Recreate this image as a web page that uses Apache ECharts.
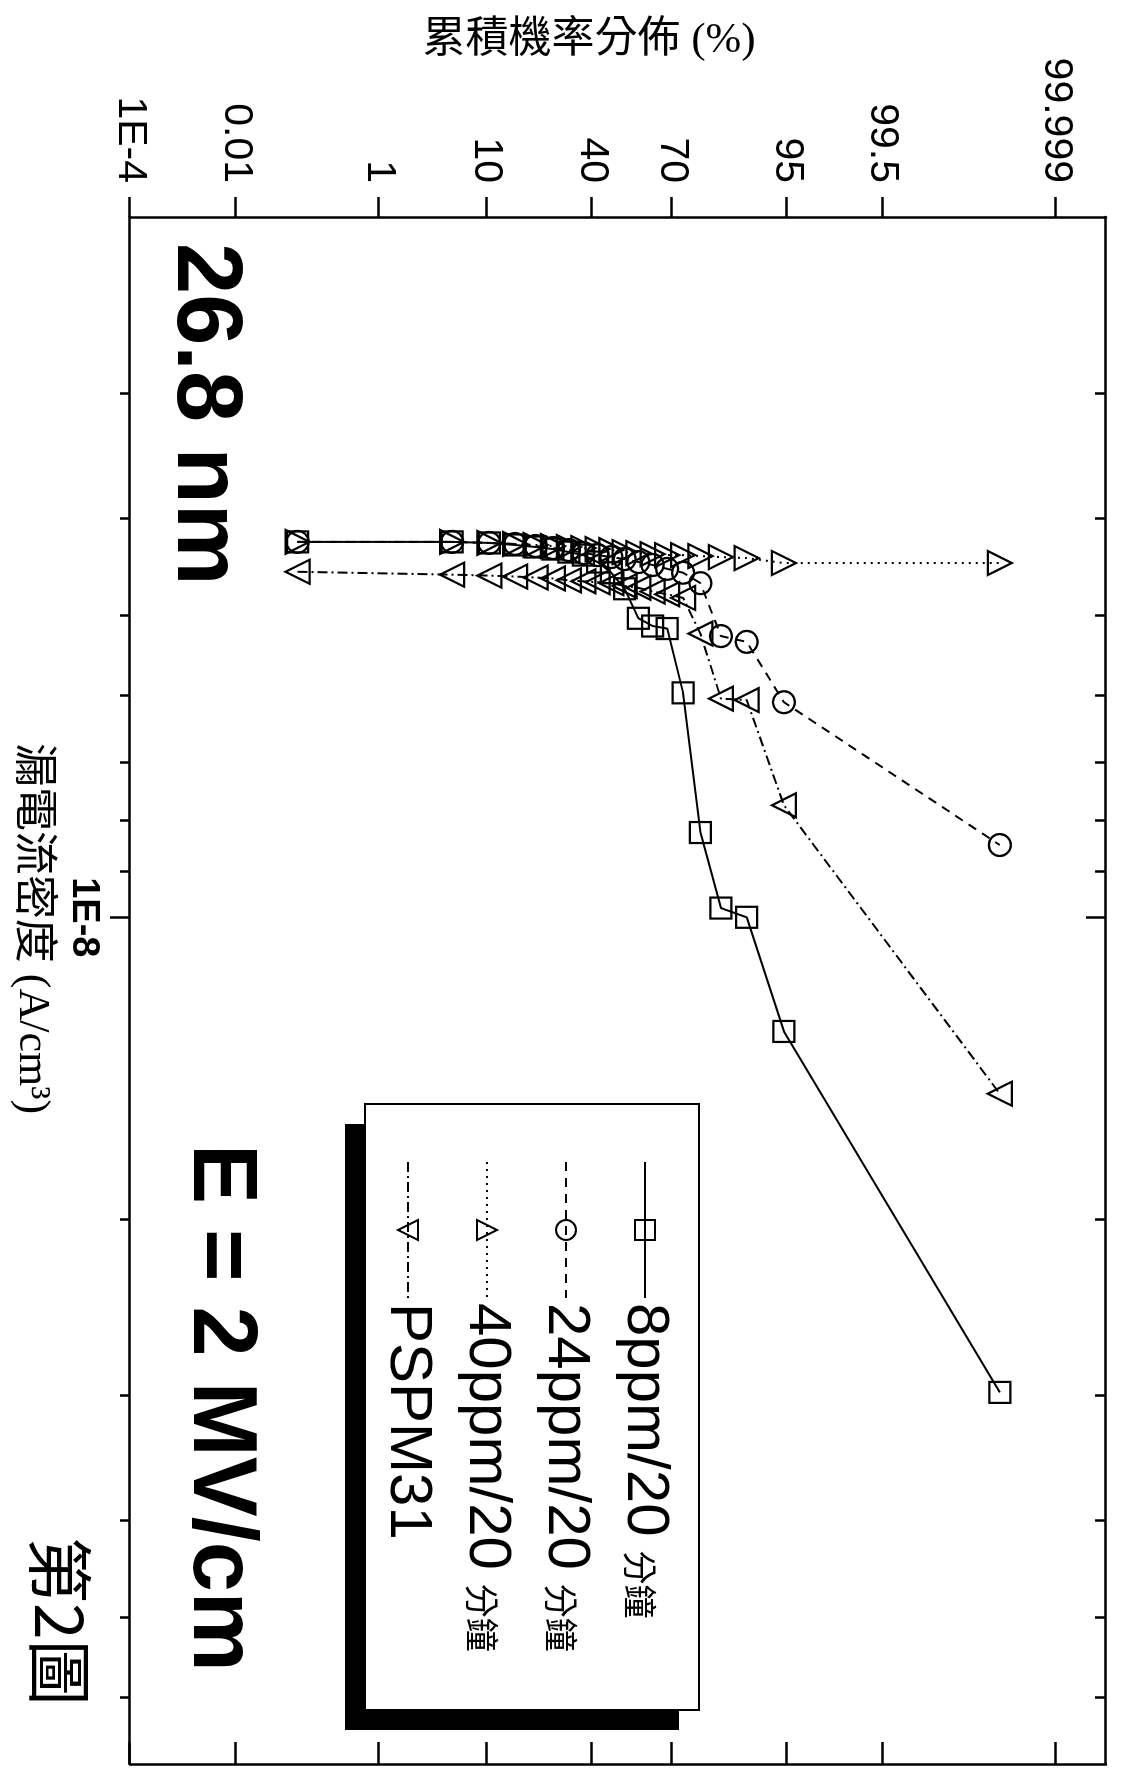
<!DOCTYPE html>
<html>
<head>
<meta charset="utf-8">
<script src="https://cdn.jsdelivr.net/npm/echarts@6.0.0/dist/echarts.min.js"></script>
<style>
  html, body { margin: 0; padding: 0; background: #fff; overflow: hidden; }
  #page { position: relative; width: 1128px; height: 1775px; overflow: hidden; background: #fff; }
  /* the figure is printed sideways: draw it upright, then turn it a quarter clockwise */
  #chart { position: absolute; left: 0; top: 0; width: 1775px; height: 1128px;
           transform-origin: 0 0; transform: translate(1128px, 0) rotate(90deg); }
</style>
</head>
<body>
<div id="page"><div id="chart"></div></div>
<script>
// cumulative probability (%) of each rank, shared by all four lots
var cumProb = [0.09, 5.3, 10.5, 15.8, 21.1, 26.3, 31.6, 36.8, 42.1, 47.4,
               52.6, 57.9, 63.2, 68.4, 73.7, 78.9, 84.2, 89.5, 94.7, 99.99];

// leakage current density (A/cm3) per rank
var j8ppm   = [4.22e-9, 4.22e-9, 4.23e-9, 4.25e-9, 4.27e-9, 4.29e-9, 4.32e-9, 4.35e-9, 4.42e-9, 4.53e-9,
               4.70e-9, 5.03e-9, 5.12e-9, 5.15e-9, 5.97e-9, 8.23e-9, 9.79e-9, 1.00e-8, 1.30e-8, 2.98e-8];
var j24ppm  = [4.22e-9, 4.22e-9, 4.23e-9, 4.24e-9, 4.26e-9, 4.28e-9, 4.30e-9, 4.33e-9, 4.35e-9, 4.37e-9,
               4.39e-9, 4.42e-9, 4.45e-9, 4.49e-9, 4.53e-9, 4.64e-9, 5.24e-9, 5.31e-9, 6.10e-9, 8.47e-9];
var j40ppm  = [4.22e-9, 4.22e-9, 4.23e-9, 4.24e-9, 4.25e-9, 4.26e-9, 4.27e-9, 4.28e-9, 4.29e-9, 4.30e-9,
               4.32e-9, 4.33e-9, 4.34e-9, 4.35e-9, 4.35e-9, 4.36e-9, 4.37e-9, 4.38e-9, 4.43e-9, 4.43e-9];
var jPSPM31 = [4.52e-9, 4.55e-9, 4.56e-9, 4.57e-9, 4.58e-9, 4.59e-9, 4.61e-9, 4.62e-9, 4.63e-9, 4.64e-9,
               4.67e-9, 4.69e-9, 4.73e-9, 4.76e-9, 4.80e-9, 5.21e-9, 6.05e-9, 6.07e-9, 7.73e-9, 1.50e-8];

var seriesNames = ['8ppm/20 分鐘', '24ppm/20 分鐘', '40ppm/20 分鐘', 'PSPM31'];

// axis ticks
var probTicks = [0.0001, 0.01, 1, 10, 40, 70, 95, 99.5, 99.999];
var probTickLabels = ['1E-4', '0.01', '1', '10', '40', '70', '95', '99.5', '99.999'];
var probRange = [0.0001, 99.9999];
var currentRange = [2e-9, 7e-8];
var currentMajor = [1e-8];
var currentMajorLabels = ['1E-8'];
var currentMinor = [3e-9, 4e-9, 5e-9, 6e-9, 7e-9, 8e-9, 9e-9, 2e-8, 3e-8, 4e-8, 5e-8, 6e-8];

// inverse normal cdf (Acklam) for the probability-paper axis
function probit(p) {
  var a = [-3.969683028665376e+01, 2.209460984245205e+02, -2.759285104469687e+02,
           1.383577518672690e+02, -3.066479806614716e+01, 2.506628277459239e+00];
  var b = [-5.447609879822406e+01, 1.615858368580409e+02, -1.556989798598866e+02,
           6.680131188771972e+01, -1.328068155288572e+01];
  var c = [-7.784894002430293e-03, -3.223964580411365e-01, -2.400758277161838e+00,
           -2.549671688721042e+00, 4.374664141464968e+00, 2.938163982698783e+00];
  var d = [7.784695709041462e-03, 3.224671290700398e-01, 2.445134137142996e+00,
           3.754408661907416e+00];
  var pl = 0.02425, q, r;
  if (p < pl) {
    q = Math.sqrt(-2 * Math.log(p));
    return (((((c[0]*q+c[1])*q+c[2])*q+c[3])*q+c[4])*q+c[5]) / ((((d[0]*q+d[1])*q+d[2])*q+d[3])*q+1);
  }
  if (p > 1 - pl) {
    q = Math.sqrt(-2 * Math.log(1 - p));
    return -(((((c[0]*q+c[1])*q+c[2])*q+c[3])*q+c[4])*q+c[5]) / ((((d[0]*q+d[1])*q+d[2])*q+d[3])*q+1);
  }
  q = p - 0.5; r = q * q;
  return (((((a[0]*r+a[1])*r+a[2])*r+a[3])*r+a[4])*r+a[5])*q / (((((b[0]*r+b[1])*r+b[2])*r+b[3])*r+b[4])*r+1);
}

var zMin = probit(probRange[0] / 100);
var zMax = probit(probRange[1] / 100);
var probTickZ = probTicks.map(function (p) { return probit(p / 100); });

function pairs(j) {
  return j.map(function (v, i) { return [v, probit(cumProb[i] / 100)]; });
}

var black = '#000';
var frameLine = { show: true, onZero: false, lineStyle: { color: black, width: 2.5 } };
var noLine = { show: false, onZero: false };
var tickLine = { color: black, width: 2.5 };

function currentAxis(position, ticks, inside, len, lineShown, labels) {
  return {
    type: 'log', logBase: 10, min: currentRange[0], max: currentRange[1], position: position,
    axisLine: lineShown ? frameLine : noLine,
    splitLine: { show: false }, minorTick: { show: false }, minorSplitLine: { show: false },
    axisTick: { show: true, inside: inside, length: len, lineStyle: tickLine, customValues: ticks },
    axisLabel: labels ? {
      customValues: ticks,
      formatter: function (v) {
        var i = ticks.findIndex(function (t) { return Math.abs(t - v) / t < 1e-6; });
        return i >= 0 ? currentMajorLabels[i] : '';
      },
      margin: 28, fontSize: 38, fontWeight: 'bold', fontFamily: 'Liberation Sans', color: black
    } : { show: false }
  };
}

var xMain = currentAxis('bottom', currentMajor, false, 20, true, true);
xMain.name = '漏電流密度 (A/cm³)';
xMain.nameLocation = 'middle';
xMain.nameGap = 76;
xMain.nameMoveOverlap = false;
xMain.nameTextStyle = { fontSize: 44, fontFamily: '"Liberation Serif", "Noto Sans CJK TC"', color: black, padding: [0, 124, 0, 0] };

function seriesOf(name, j, symbol, size, dash, rotate) {
  return {
    name: name, type: 'line', data: pairs(j), xAxisIndex: 0, yAxisIndex: 0,
    symbol: symbol, symbolSize: size, symbolRotate: rotate || 0, showSymbol: true,
    lineStyle: { color: black, width: 2, type: dash },
    itemStyle: { color: 'rgba(0,0,0,0)', borderColor: black, borderWidth: 2.2 },
    emphasis: { disabled: true }
  };
}

// legend frame and its drop shadow
var legendBox = { x: 1104, y: 429, width: 606, height: 334, shadow: 20 };

var chart = echarts.init(document.getElementById('chart'));
chart.setOption({
  animation: false,
  backgroundColor: '#fff',
  grid: { left: 217, right: 11, top: 22, bottom: 130, outerBoundsMode: 'none', containLabel: false },
  xAxis: [
    xMain,
    currentAxis('bottom', currentMinor, false, 10, false, false),
    currentAxis('top', currentMajor, true, 20, true, false),
    currentAxis('top', currentMinor, true, 11, false, false)
  ],
  yAxis: [
    {
      type: 'value', min: zMin, max: zMax, position: 'left',
      axisLine: frameLine, splitLine: { show: false },
      axisTick: { show: true, inside: false, length: 20, lineStyle: tickLine, customValues: probTickZ },
      axisLabel: {
        customValues: probTickZ, showMinLabel: true, showMaxLabel: true,
        formatter: function (v) {
          var i = probTickZ.findIndex(function (z) { return Math.abs(z - v) < 1e-6; });
          return i >= 0 ? probTickLabels[i] : '';
        },
        margin: 34, fontSize: 41, fontFamily: 'Liberation Sans', color: black
      },
      name: '累積機率分佈 (%)', nameLocation: 'middle', nameRotate: 90, nameGap: 155,
      nameMoveOverlap: false,
      nameTextStyle: { fontSize: 43, fontFamily: '"Liberation Serif", "Noto Sans CJK TC"', color: black, padding: [0, 58, 0, 0] }
    },
    {
      type: 'value', min: zMin, max: zMax, position: 'right',
      axisLine: frameLine, splitLine: { show: false },
      axisTick: { show: true, inside: true, length: 22, lineStyle: tickLine, customValues: probTickZ },
      axisLabel: { show: false }
    }
  ],
  legend: {
    orient: 'vertical', left: legendBox.x, top: legendBox.y, align: 'left', z: 20,
    itemWidth: 136, itemHeight: 25, itemGap: 18,
    padding: [24, 80, 16, 57],
    backgroundColor: 'transparent', borderWidth: 0,
    selectedMode: false,
    data: seriesNames,
    formatter: function (name) {
      var parts = name.split(' ');
      return parts.length > 1 ? '{a|' + parts[0] + '}{b|' + parts[1] + '}' : '{a|' + name + '}';
    },
    textStyle: {
      color: black,
      rich: {
        a: { fontSize: 60, fontFamily: 'Liberation Sans', color: black, lineHeight: 62 },
        b: { fontSize: 34, fontFamily: 'Noto Sans CJK TC', color: black, lineHeight: 34,
             verticalAlign: 'bottom', padding: [0, 0, 9, 14] }
      }
    }
  },
  graphic: [
    { type: 'rect', z: 5, silent: true,
      shape: { x: legendBox.x + legendBox.shadow, y: legendBox.y + legendBox.shadow, width: legendBox.width, height: legendBox.height },
      style: { fill: black } },
    { type: 'rect', z: 6, silent: true,
      shape: { x: legendBox.x, y: legendBox.y, width: legendBox.width, height: legendBox.height },
      style: { fill: '#fff', stroke: black, lineWidth: 2 } },
    { type: 'text', x: 243, y: 925,
      style: { text: '26.8 nm', fontSize: 92, fontWeight: 'bold', fontFamily: 'Liberation Sans', fill: black, align: 'left', verticalAlign: 'middle' } },
    { type: 'text', x: 1144, y: 909,
      style: { text: 'E = 2 MV/cm', fontSize: 90, fontWeight: 'bold', fontFamily: 'Liberation Sans', fill: black, align: 'left', verticalAlign: 'middle' } },
    { type: 'text', x: 1537, y: 1068,
      style: { text: '第2圖', fontSize: 66, fontFamily: 'Noto Sans CJK TC', fill: black, align: 'left', verticalAlign: 'middle' } }
  ],
  series: [
    seriesOf(seriesNames[0], j8ppm, 'rect', 21, 'solid', 0),
    seriesOf(seriesNames[1], j24ppm, 'circle', 22, [9, 7], 0),
    seriesOf(seriesNames[2], j40ppm, 'triangle', 24, [2, 5], 0),
    seriesOf(seriesNames[3], jPSPM31, 'triangle', 24, [10, 4, 2, 4], 180)
  ]
});
</script>
</body>
</html>
